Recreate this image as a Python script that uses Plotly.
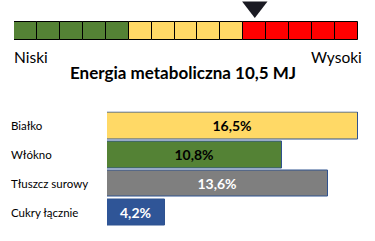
import plotly.graph_objects as go

# Gauge data
gauge_colors = ["#548235"] * 5 + ["#FFD966"] * 5 + ["#FF0000"] * 5
gauge_cells = list(range(len(gauge_colors)))
energy_value = 10.5          # position of marker on the 15-cell scale
energy_title = "Energia metaboliczna 10,5 MJ"
low_label, high_label = "Niski", "Wysoki"

# Bar data
categories = ["Białko", "Włókno", "Tłuszcz surowy", "Cukry łącznie"]
value_labels = ["16,5%", "10,8%", "13,6%", "4,2%"]
bar_lengths = [16.5, 11.5, 14.5, 3.8]
bar_colors = ["#FFD966", "#548235", "#7F7F7F", "#2F5597"]
text_colors = ["black", "black", "white", "white"]

W, H = 375, 241
FONT = "Lato"

fig = go.Figure()

# Gauge cells (cell height = 1 unit = 18 px; axis spans 0..40 px from top)
fig.add_trace(go.Bar(
    x=[c + 0.5 for c in gauge_cells], y=[1] * len(gauge_cells), width=1,
    marker=dict(color=gauge_colors, line=dict(color="black", width=1)),
    xaxis="x2", yaxis="y2", hoverinfo="skip", showlegend=False,
))
# Marker triangle
fig.add_trace(go.Scatter(
    x=[energy_value], y=[1.83], mode="markers",
    marker=dict(symbol="triangle-down", size=22, color="#1a1a22", line=dict(width=0)),
    xaxis="x2", yaxis="y2", cliponaxis=False, hoverinfo="skip", showlegend=False,
))

# Nutrient bars
fig.add_trace(go.Bar(
    x=bar_lengths, y=list(range(len(categories))), orientation="h", width=0.92,
    marker=dict(color=bar_colors, line=dict(color="#2F528F", width=1)),
    text=value_labels, textposition="inside", insidetextanchor="middle",
    textfont=dict(family=FONT, size=14, color=text_colors, weight="bold"),
    xaxis="x", yaxis="y", hoverinfo="skip", showlegend=False,
))

annotations = []
for i, c in enumerate(categories):
    annotations.append(dict(x=9 / W, y=i, xref="paper", yref="y", text=c,
                            showarrow=False, xanchor="left", yanchor="middle",
                            font=dict(family=FONT, size=11.5, color="black")))
annotations += [
    dict(x=12 / W, y=1 - 57 / H, xref="paper", yref="paper", text=low_label,
         showarrow=False, xanchor="left", yanchor="middle",
         font=dict(family=FONT, size=15.5, color="black")),
    dict(x=364 / W, y=1 - 57 / H, xref="paper", yref="paper", text=high_label,
         showarrow=False, xanchor="right", yanchor="middle",
         font=dict(family=FONT, size=15.5, color="black")),
    dict(x=183 / W, y=1 - 72 / H, xref="paper", yref="paper", text=energy_title,
         showarrow=False, xanchor="center", yanchor="middle",
         font=dict(family=FONT, size=17, color="black", weight="bold")),
]

hidden = dict(visible=False, showgrid=False, zeroline=False, fixedrange=True)
fig.update_layout(
    width=W, height=H, margin=dict(l=0, r=0, t=0, b=0),
    paper_bgcolor="white", plot_bgcolor="white",
    xaxis=dict(domain=[107 / W, 358 / W], range=[0, 16.5], **hidden),
    yaxis=dict(domain=[1 - 227 / H, 1 - 111.5 / H], range=[3.5, -0.5], **hidden),
    xaxis2=dict(domain=[14 / W, 358 / W], range=[0, 15], anchor="y2", **hidden),
    yaxis2=dict(domain=[1 - 40 / H, 1], range=[0, 40 / 18], anchor="x2", **hidden),
    bargap=0, annotations=annotations,
)

fig.write_html("out.html")
